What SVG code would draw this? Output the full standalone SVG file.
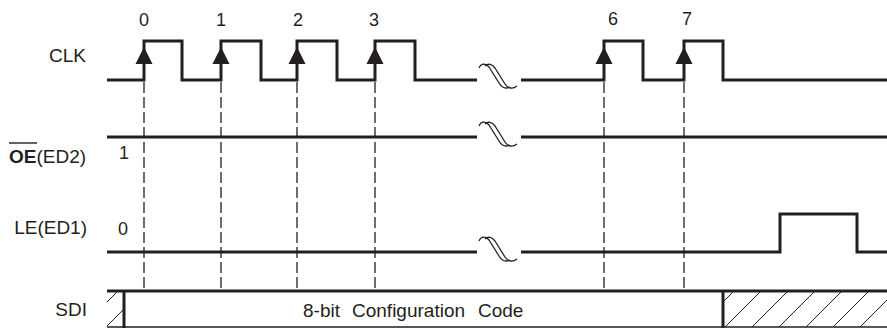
<svg xmlns="http://www.w3.org/2000/svg" xmlns:xlink="http://www.w3.org/1999/xlink" width="887" height="328" viewBox="0 0 887 328">
<style>
.sig{fill:none;stroke:#231f20;stroke-width:3}
.thin{fill:none;stroke:#231f20;stroke-width:1.4}
.dash{fill:none;stroke:#231f20;stroke-width:1.3;stroke-dasharray:11 4}
.hatch{fill:none;stroke:#231f20;stroke-width:1}
.brk{fill:none;stroke:#231f20;stroke-width:1.3}
text{font-family:"Liberation Sans",Arial,sans-serif;font-size:19px;fill:#231f20}
.num{font-size:18px;text-anchor:middle}
.lbl{text-anchor:end}
</style>
<defs>
<path id="arr" d="M0,-17 L8.5,0 L-8.5,0 Z" fill="#231f20"/>
<g id="brk">
<path class="brk" d="M479,-11 C481,-16 486,-16 489,-12 L499,4 C502,9 506,10 510,8"/>
<path class="brk" d="M485,-13 C488,-16 492,-15 495,-11 L505,5 C508,10 513,10 517,7"/>
</g>
<clipPath id="cl"><rect x="107" y="292" width="17" height="35"/></clipPath>
<clipPath id="cr"><rect x="723" y="292" width="164" height="35"/></clipPath>
</defs>

<g id="connectors">
<path class="dash" d="M144,82 V290 M221,82 V290 M297,82 V290 M375,82 V290 M604,82 V290 M684,82 V290"/>
</g>

<g id="clk">
<path class="sig" d="M107,80 H144 V41 H182 V80 H221 V41 H261 V80 H297 V41 H337 V80 H375 V41 H415 V80 H477"/>
<path class="sig" d="M521,80 H604 V41 H643 V80 H684 V41 H723 V80 H887"/>
<use xlink:href="#arr" x="144" y="64"/>
<use xlink:href="#arr" x="221" y="64"/>
<use xlink:href="#arr" x="297" y="64"/>
<use xlink:href="#arr" x="375" y="64"/>
<use xlink:href="#arr" x="604" y="64"/>
<use xlink:href="#arr" x="684" y="64"/>
<use xlink:href="#brk" transform="translate(0,79)"/>
<text class="lbl" x="86" y="62">CLK</text>
<text class="num" x="144" y="26">0</text>
<text class="num" x="221" y="26">1</text>
<text class="num" x="298" y="26">2</text>
<text class="num" x="374" y="26">3</text>
<text class="num" x="613" y="25">6</text>
<text class="num" x="687" y="25">7</text>
</g>

<g id="oe">
<path class="sig" d="M107,137 H477 M521,137 H887"/>
<use xlink:href="#brk" transform="translate(0,137)"/>
<text x="9" y="163"><tspan font-weight="bold">OE</tspan>(ED2)</text>
<path class="thin" d="M9,143 H37"/>
<text class="num" x="124" y="159">1</text>
</g>

<g id="le">
<path class="sig" d="M107,252 H477 M521,252 H780 V214 H857 V252 H887"/>
<use xlink:href="#brk" transform="translate(0,252)"/>
<text class="lbl" x="87" y="234">LE(ED1)</text>
<text class="num" x="123" y="235">0</text>
</g>

<g id="sdi">
<path class="sig" d="M107,291 H887"/>
<path class="thin" d="M107,327 H887"/>
<path class="sig" d="M124,291 V328 M723,291 V328"/>
<g clip-path="url(#cl)">
<path class="hatch" d="M82,327 L118,291 M106,327 L142,291"/>
</g>
<g clip-path="url(#cr)">
<path class="hatch" d="M698,327 L734,291 M725,327 L761,291 M752,327 L788,291 M779,327 L815,291 M806,327 L842,291 M833,327 L869,291 M860,327 L896,291"/>
</g>
<text class="lbl" x="87" y="316">SDI</text>
<text y="317"><tspan x="303">8-bit</tspan><tspan x="352">Configuration</tspan><tspan x="478">Code</tspan></text>
</g>
</svg>
